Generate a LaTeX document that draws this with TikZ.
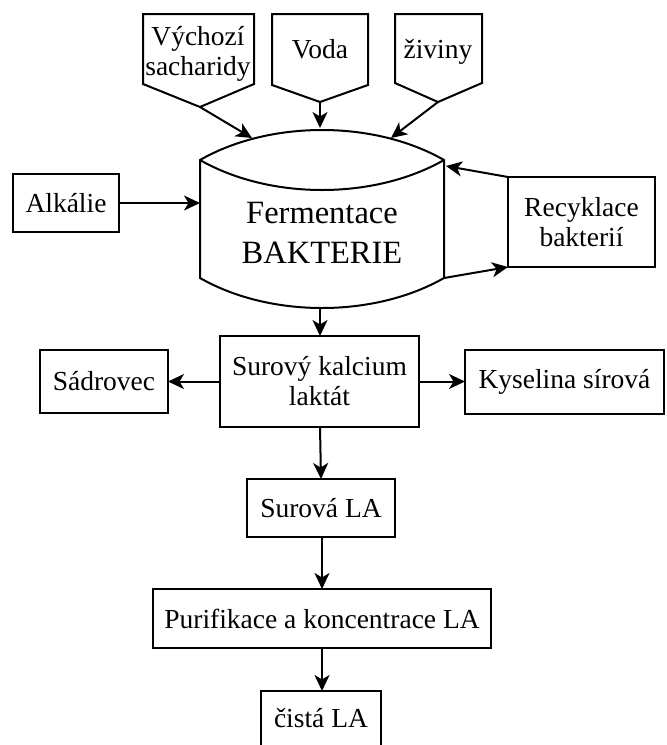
\documentclass[tikz,border=0pt]{standalone}
\usepackage{fontspec}
\setmainfont{Liberation Serif}
\usepackage{tikz}
\usetikzlibrary{arrows.meta,calc}
\tikzset{
  box/.style={draw, line width=2pt, align=center, inner sep=2pt, outer sep=0pt, font=\fontsize{27.5}{30}\selectfont},
  lbl/.style={align=center, inner sep=0pt, font=\fontsize{27.5}{30}\selectfont},
  drumtxt/.style={align=center, inner sep=0pt, font=\fontsize{32.5}{40}\selectfont},
  shp/.style={line width=2pt, line join=miter},
  arr/.style={line width=2pt, -{Stealth[length=16pt,width=15pt,inset=4.5pt]}}
}

\begin{document}
\begin{tikzpicture}[x=1pt,y=-1pt]
	\useasboundingbox (0,0) rectangle (667,745);
	\draw[shp] (143,14) -- (254,14) -- (254,84) -- (200,107) coordinate (vychtip) -- (143,84) -- cycle;
	\node[lbl] (vych) at (198,54) {Výchozí\\sacharidy};
	\draw[shp] (272,14) -- (368,14) -- (368,85) -- (320,102) coordinate (vodatip) -- (272,85) -- cycle;
	\node[lbl] (voda) at (320,49) {Voda};
	\draw[shp] (395,14) -- (482,14) -- (482,83) -- (438,102) coordinate (zivtip) -- (395,83) -- cycle;
	\node[lbl] (ziv) at (438,52) {živiny};
	\node[minimum width=244pt, minimum height=118pt, inner sep=0pt, outer sep=0pt] (ferm) at (322,219) {};
	\draw[shp] (ferm.north west) .. controls +(70,-40) and +(-70,-40) .. (ferm.north east)
		-- (ferm.south east) .. controls +(-70,40) and +(70,40) .. (ferm.south west) -- cycle;
	\draw[shp] (ferm.north west) .. controls +(70,40) and +(-70,40) .. (ferm.north east);
	\node[drumtxt] (fermtxt) at (322,233) {Fermentace\\BAKTERIE};
	\coordinate (fin1) at (252,138);
	\coordinate (fin2) at (320,128);
	\coordinate (fin3) at (391,138);
	\coordinate (finr) at (446,166);
	\coordinate (fout) at (320,307);
	\node[box, minimum width=106pt, minimum height=58pt] (alk) at (66,203) {Alkálie};
	\node[box, minimum width=147pt, minimum height=90pt] (recy) at (581.5,222) {Recyklace\\bakterií};
	\node[box, minimum width=199pt, minimum height=91pt] (sur) at (319.5,381.5) {Surový kalcium\\laktát};
	\node[box, minimum width=128pt, minimum height=63pt] (sad) at (104,381.5) {Sádrovec};
	\node[box, minimum width=199pt, minimum height=64pt] (kys) at (564.5,381.5) {Kyselina sírová};
	\node[box, minimum width=148pt, minimum height=58pt] (sla) at (321,508) {Surová LA};
	\node[box, minimum width=338pt, minimum height=59pt] (pur) at (322,618.5) {Purifikace a koncentrace LA};
	\node[box, minimum width=120pt, minimum height=70pt, text depth=16pt] (cis) at (321,726) {čistá LA};
	\draw[arr] (vychtip) -- (fin1);
	\draw[arr] (vodatip) -- (fin2);
	\draw[arr] (zivtip) -- (fin3);
	\draw[arr] (alk.east) -- (alk.east -| ferm.west);
	\draw[arr] (recy.north west) -- (finr);
	\draw[arr] (ferm.south east) -- (recy.south west);
	\draw[arr] (fout) -- (fout |- sur.north);
	\draw[arr] (sur.west) -- (sad.east);
	\draw[arr] (sur.east) -- (kys.west);
	\draw[arr] (sur.south -| fout) -- (sla.north);
	\draw[arr] (sla.south -| pur.north) -- (pur.north);
	\draw[arr] (pur.south) -- (pur.south |- cis.north);
\end{tikzpicture}
\end{document}
